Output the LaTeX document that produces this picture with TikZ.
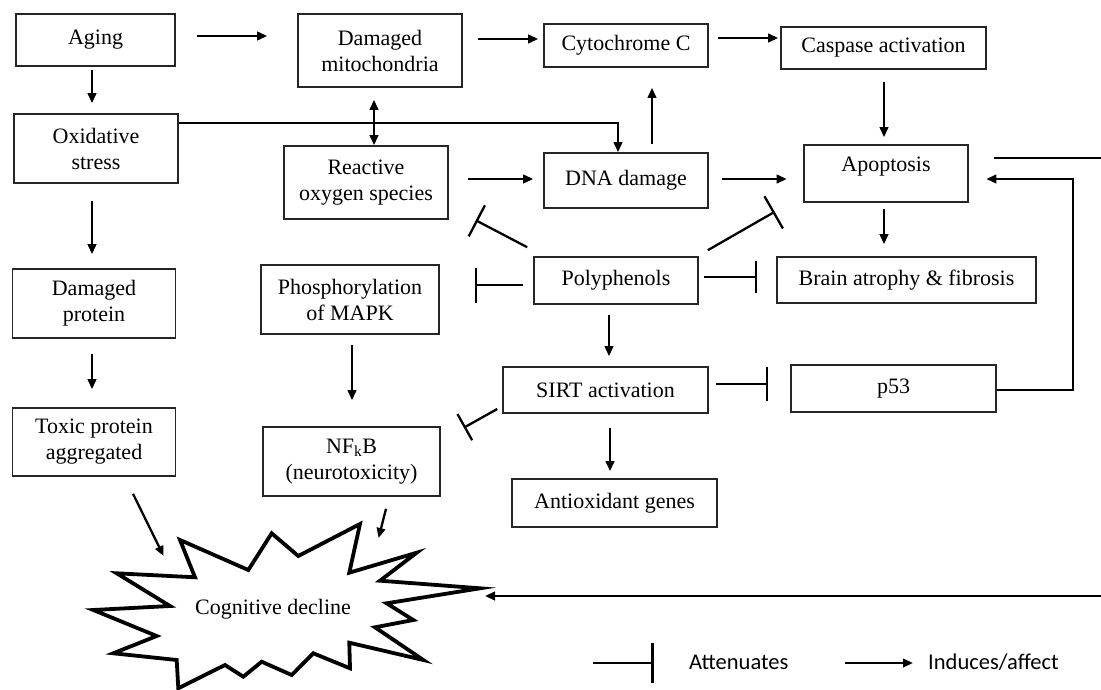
\documentclass[tikz,border=0pt]{standalone}
\usepackage{fontspec}
\setmainfont{Liberation Serif}
\newfontfamily\legfont{Carlito}
\usetikzlibrary{arrows.meta,calc}
\begin{document}
\begin{tikzpicture}[x=1pt,y=-1pt,
  box/.style={draw=black!85, line width=1.6pt, inner sep=0pt, align=center,
              font=\fontsize{22}{26}\selectfont},
  plain/.style={inner sep=0pt, align=center, font=\fontsize{22}{26}\selectfont},
  ind/.style={line width=2.3pt, -{Triangle[length=10pt,width=8.5pt]}},
  dbl/.style={line width=2.3pt, {Triangle[length=10pt,width=8.5pt]}-{Triangle[length=10pt,width=8.5pt]}},
  inh/.style={line width=2.3pt, -{Bar[width=#1]}},
  inh/.default=35pt,
  conn/.style={line width=2.3pt},
  starline/.style={line width=3.8pt, line join=miter, draw=black, fill=white},
  legtext/.style={font=\legfont\fontsize{22.5}{27}\selectfont, inner sep=0pt, anchor=west}
]
\useasboundingbox (0,0) rectangle (1101,690);

% boxes
\node[box, minimum width=159pt, minimum height=52pt] (aging) at (95.5,40) {Aging};
\node[box, minimum width=164pt, minimum height=73pt] (dm) at (380,50.5) {Damaged\\mitochondria};
\node[box, minimum width=164pt, minimum height=43pt] (cyt) at (626,45.5) {Cytochrome C};
\node[box, minimum width=205pt, minimum height=42pt] (casp) at (883.5,48) {Caspase activation};
\node[box, minimum width=164pt, minimum height=69pt] (oxid) at (96,148.5) {Oxidative\\stress};
\node[box, minimum width=164pt, minimum height=73pt] (ros) at (366,182.5) {Reactive\\oxygen species};
\node[box, minimum width=164pt, minimum height=55pt] (dna) at (626,180.5) {DNA damage};
\node[box, minimum width=164pt, minimum height=57pt] (apop) at (886,173.5) {};
\node[plain] (apoptxt) at ($(apop)+(0,-7)$) {Apoptosis};
\node[box, minimum width=163pt, minimum height=69pt] (dprot) at (94,303.5) {Damaged\\protein};
\node[box, minimum width=163pt, minimum height=68pt] (toxic) at (94,442) {Toxic protein\\aggregated};
\node[box, minimum width=178pt, minimum height=69pt] (mapk) at (350,299.5) {Phosphorylation\\of MAPK};
\node[box, minimum width=177pt, minimum height=69pt] (nfkb) at (351.5,461.5) {NF\textsubscript{k}B\\(neurotoxicity)};
\node[box, minimum width=164pt, minimum height=47pt] (poly) at (616,280.5) {Polyphenols};
\node[box, minimum width=259pt, minimum height=46pt] (brain) at (906.5,280) {Brain atrophy \& fibrosis};
\node[box, minimum width=205pt, minimum height=46pt] (sirt) at (605.5,390) {SIRT activation};
\node[box, minimum width=205pt, minimum height=47pt] (p53) at (893.5,388.5) {p53};
\node[box, minimum width=205pt, minimum height=48pt] (antiox) at (614.5,503) {Antioxidant genes};

% star
\draw[starline] (93.3,610) -- (170,606) -- (116.7,573.3) -- (195,577.3) -- (180,540)
  -- (248.3,570) -- (271.7,533.3) -- (298.3,556) -- (360,524) -- (349.3,572.7)
  -- (416.7,552.7) -- (380,580.7) -- (480,588.3) -- (386.7,603.3) -- (413.3,620)
  -- (375,627.3) -- (423.3,660) -- (349.3,642.7) -- (350,668.3) -- (313.3,653.3)
  -- (291.7,675) -- (261.7,661.7) -- (243.3,676.7) -- (225,665) -- (178.3,688.3)
  -- (176.7,660) -- (113.3,653.3) -- (156.7,636) -- cycle;
\node[plain] (cog) at (273,609) {Cognitive decline};

% free ends at the right edge
\coordinate (edgeA) at (1101,158);
\coordinate (edgeB) at (1101,596);

% induce arrows
\draw[ind] ($(aging.east)+(21,-4)$) -- ($(dm.west)+(-30,-14.5)$);
\draw[ind] ($(dm.east)+(15,-11.5)$) -- ($(cyt.west)+(-5,-6.5)$);
\draw[ind] ($(cyt.east)+(9.5,-7.5)$) -- ($(casp.west)+(-2,-10)$);
\draw[ind] ($(casp.south)+(0.5,12)$) -- ($(apop.north)+(-2,-7)$);
\draw[ind] ($(aging.south)+(-3.5,3)$) -- ($(oxid.north)+(-4,-10)$);
\draw[ind] ($(oxid.north east)+(0,10)$) -| ($(dna.north)+(-8,0)$);
\draw[dbl] ($(dm.south)+(-6,12)$) -- ($(ros.north)+(8,0)$);
\draw[ind] ($(ros.east)+(19,-3.5)$) -- ($(dna.west)+(-10,-1.5)$);
\draw[ind] ($(dna.north)+(26,-8)$) -- ($(cyt.south)+(26,20)$);
\draw[ind] ($(dna.east)+(13,-1.5)$) -- ($(apop.west)+(-16.5,5.5)$);
\draw[conn] ($(apop.east)+(25.5,-15.5)$) -- (edgeA);
\draw[ind] ($(p53.east)+(0,1.5)$) -| ($(apop.east)+(104.5,5.5)$) -- ($(apop.east)+(17.5,5.5)$);
\draw[ind] ($(apop.south)+(-2,6)$) -- ($(brain.north)+(-22.5,-12)$);
\draw[ind] ($(poly.south)+(-7,10)$) -- ($(sirt.north)+(3.5,-10)$);
\draw[ind] ($(sirt.south)+(4.5,14)$) -- ($(antiox.north)+(-4.5,-7)$);
\draw[ind] ($(oxid.south)+(-4,17)$) -- ($(dprot.north)+(-2,-14)$);
\draw[ind] ($(dprot.south)+(-2,15)$) -- ($(toxic.north)+(-2,-18)$);
\draw[ind] ($(mapk.south)+(2,10)$) -- ($(nfkb.north)+(0.5,-26)$);
\draw[ind] ($(toxic.south)+(39,17)$) -- ($(cog)+(-109.4,-53)$);
\draw[ind] ($(nfkb.south)+(34.5,12)$) -- ($(cog)+(105.6,-71)$);
\draw[ind] (edgeB) -- ($(cog)+(212,-13)$);

% attenuate connectors
\draw[inh=35pt] ($(poly.north west)+(-6,-9)$) -- ($(ros.south east)+(27,0.5)$);
\draw[inh=37pt] ($(poly.north east)+(9,-6)$) -- ($(apop.south west)+(-28.5,9)$);
\draw[inh=35pt] ($(poly.west)+(-10,4.5)$) -- ($(mapk.east)+(35,-14.5)$);
\draw[inh=32pt] ($(poly.east)+(5,-3.5)$) -- ($(brain.west)+(-19,-3)$);
\draw[inh=34pt] ($(sirt.east)+(7,-6)$) -- ($(p53.west)+(-22.4,-4.5)$);
\draw[inh=30pt] ($(sirt.west)+(-5,19)$) -- ($(nfkb.north east)+(23,1.5)$);

% legend
\node[legtext] (att) at (689,662) {Attenuates};
\node[legtext] (indu) at (928,662) {Induces/affect};
\draw[inh=40pt] ($(att.west)+(-96,1)$) -- ($(att.west)+(-35.4,1)$);
\draw[ind] ($(indu.west)+(-83.4,1)$) -- ($(indu.west)+(-15,1)$);
\end{tikzpicture}
\end{document}
